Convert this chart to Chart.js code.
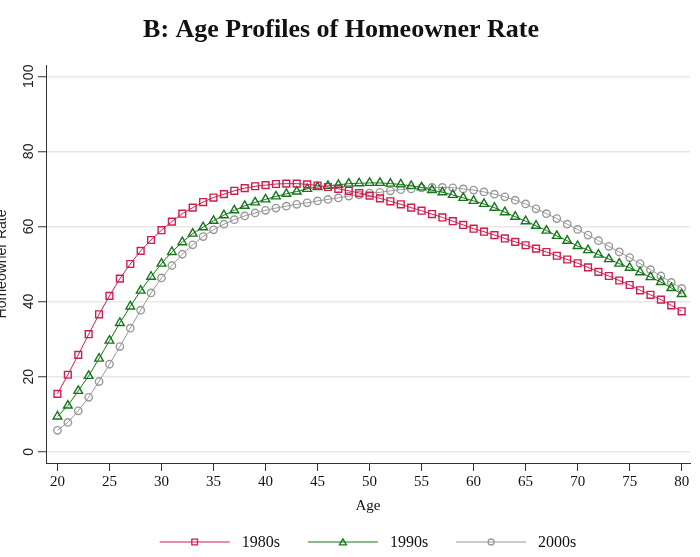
<!DOCTYPE html>
<html>
<head>
<meta charset="utf-8">
<script src="https://cdn.jsdelivr.net/npm/chart.js@4/dist/chart.umd.min.js"></script>
<style>
  html, body { margin: 0; padding: 0; background: #ffffff; }
  #wrap { width: 700px; height: 557px; }
</style>
</head>
<body>
<div id="wrap"><canvas id="c" width="700" height="557"></canvas></div>
<script>
const titleText = 'B: Age Profiles of Homeowner Rate';
const xTitle = 'Age';
const yTitle = 'Homeowner Rate';
const seriesNames = ['1980s', '1990s', '2000s'];

const ages = [20,21,22,23,24,25,26,27,28,29,30,31,32,33,34,35,36,37,38,39,40,41,42,43,44,45,46,47,48,49,50,
  51,52,53,54,55,56,57,58,59,60,61,62,63,64,65,66,67,68,69,70,71,72,73,74,75,76,77,78,79,80];

const rate1980s = [15.4,20.5,25.8,31.3,36.6,41.5,46.1,50.0,53.5,56.4,59.0,61.3,63.4,65.0,66.5,67.7,68.6,69.5,70.2,70.7,
  71.0,71.3,71.4,71.4,71.2,70.9,70.5,70.0,69.5,68.9,68.2,67.5,66.7,65.9,65.0,64.2,63.3,62.4,61.4,60.4,
  59.4,58.6,57.7,56.8,55.9,55.0,54.1,53.2,52.2,51.2,50.2,49.1,47.9,46.8,45.6,44.4,43.0,41.8,40.5,39.0,37.4];

const rate1990s = [9.4,12.3,16.2,20.2,24.8,29.6,34.3,38.7,42.9,46.6,50.1,53.2,55.8,58.1,59.8,61.5,63.0,64.3,65.5,66.4,
  67.2,68.0,68.7,69.3,70.0,70.5,70.8,71.1,71.4,71.5,71.6,71.6,71.4,71.2,70.8,70.4,69.7,69.1,68.4,67.6,
  66.8,66.0,65.0,63.8,62.6,61.4,60.2,58.9,57.5,56.2,54.8,53.7,52.5,51.3,50.1,49.0,47.8,46.5,45.2,43.6,42.0];

const rate2000s = [5.7,7.8,10.9,14.5,18.7,23.3,28.0,32.9,37.7,42.3,46.3,49.6,52.6,55.1,57.3,59.1,60.6,61.8,62.8,63.6,
  64.3,64.9,65.4,65.9,66.3,66.8,67.2,67.6,68.1,68.4,68.9,69.1,69.5,69.8,70.0,70.3,70.4,70.4,70.3,70.0,
  69.7,69.2,68.6,67.9,67.0,66.0,64.7,63.4,62.1,60.6,59.2,57.7,56.2,54.7,53.2,51.7,50.1,48.5,46.8,45.1,43.5];

const xTicks = [20,25,30,35,40,45,50,55,60,65,70,75,80];
const yTicks = [0,20,40,60,80,100];

const colors = ['#cf1d4c', '#17761a', '#999999'];
const styles = ['rect', 'triangle', 'circle'];
const radii = [4.8, 5, 3.7];
const seriesValues = [rate1980s, rate1990s, rate2000s];

const serif = "'Liberation Serif', 'Times New Roman', serif";
const sans = "'Liberation Sans', Arial, sans-serif";

function drawMarker(ctx, style, x, y, r, color) {
  ctx.save();
  ctx.strokeStyle = color;
  ctx.lineWidth = 1.3;
  ctx.beginPath();
  if (style === 'rect') {
    const s = r * Math.SQRT1_2;
    ctx.rect(x - s, y - s, 2 * s, 2 * s);
  } else if (style === 'triangle') {
    for (let k = 0; k < 3; k++) {
      const a = -Math.PI / 2 + k * 2 * Math.PI / 3;
      const px = x + r * Math.cos(a), py = y + r * Math.sin(a) + r * 0.2;
      if (k === 0) ctx.moveTo(px, py); else ctx.lineTo(px, py);
    }
    ctx.closePath();
  } else {
    ctx.arc(x, y, r, 0, Math.PI * 2);
  }
  ctx.stroke();
  ctx.restore();
}

const extras = {
  id: 'extras',
  afterDraw(chart) {
    const ctx = chart.ctx;
    const area = chart.chartArea;
    // title
    ctx.save();
    ctx.fillStyle = '#111111';
    ctx.font = 'bold 26px ' + serif;
    ctx.textAlign = 'center';
    ctx.textBaseline = 'alphabetic';
    ctx.fillText(titleText, 341, 37);
    ctx.restore();
    // rotated y tick labels
    const ys = chart.scales.y;
    ctx.save();
    ctx.fillStyle = '#222222';
    ctx.font = '14px ' + sans;
    ctx.textAlign = 'center';
    ctx.textBaseline = 'alphabetic';
    yTicks.forEach(v => {
      const py = ys.getPixelForValue(v);
      ctx.save();
      ctx.translate(33, py);
      ctx.rotate(-Math.PI / 2);
      ctx.fillText(String(v), 0, 0);
      ctx.restore();
    });
    ctx.restore();
    // legend
    ctx.save();
    ctx.font = '16px ' + serif;
    const lineW = 70, gapText = 12, gapItem = 28;
    const widths = seriesNames.map(n => lineW + gapText + ctx.measureText(n).width);
    const total = widths.reduce((a, b) => a + b, 0) + gapItem * (seriesNames.length - 1);
    let x = (area.left + area.right) / 2 - total / 2;
    const ly = 542;
    seriesNames.forEach((n, i) => {
      ctx.strokeStyle = colors[i];
      ctx.lineWidth = 1;
      ctx.beginPath();
      ctx.moveTo(x, ly);
      ctx.lineTo(x + lineW, ly);
      ctx.stroke();
      drawMarker(ctx, styles[i], x + lineW / 2, ly, i === 2 ? 3 : 4, colors[i]);
      ctx.fillStyle = '#111111';
      ctx.textAlign = 'left';
      ctx.textBaseline = 'middle';
      ctx.fillText(n, x + lineW + gapText, ly + 1);
      x += widths[i] + gapItem;
    });
    ctx.restore();
  }
};

const datasets = seriesNames.map((name, i) => ({
  label: name,
  data: ages.map((a, j) => ({ x: a, y: seriesValues[i][j] })),
  borderColor: colors[i],
  borderWidth: 1,
  pointStyle: styles[i],
  pointRadius: radii[i],
  pointBorderWidth: 1.4,
  pointBorderColor: colors[i],
  pointBackgroundColor: 'rgba(0,0,0,0)',
  tension: 0,
  fill: false
}));

new Chart(document.getElementById('c'), {
  type: 'line',
  data: { datasets },
  options: {
    responsive: false,
    animation: false,
    devicePixelRatio: 1,
    layout: { padding: { top: 65, right: 10, bottom: 30, left: 0 } },
    plugins: {
      legend: { display: false },
      title: { display: false },
      tooltip: { enabled: false }
    },
    scales: {
      x: {
        type: 'linear',
        min: 18.9,
        max: 80.8,
        afterBuildTicks: s => { s.ticks = xTicks.map(v => ({ value: v })); },
        afterFit: s => { s.height = 64; },
        grid: { drawOnChartArea: false, drawTicks: true, tickLength: 8, tickColor: '#333333', tickWidth: 1 },
        border: { display: true, color: '#333333', width: 1 },
        ticks: { color: '#111111', font: { family: serif, size: 15 }, padding: 2, maxRotation: 0, autoSkip: false },
        title: { display: true, text: xTitle, color: '#111111', font: { family: serif, size: 15 }, padding: { top: 0, bottom: 12 } }
      },
      y: {
        type: 'linear',
        min: -3,
        max: 103,
        afterBuildTicks: s => { s.ticks = yTicks.map(v => ({ value: v })); },
        afterFit: s => { s.width = 46; },
        grid: { color: '#e8e8e8', lineWidth: 1.5, drawTicks: true, tickLength: 8, tickColor: '#333333', tickWidth: 1 },
        border: { display: true, color: '#333333', width: 1 },
        ticks: { callback: () => '', font: { family: sans, size: 14 } },
        title: { display: true, text: yTitle, color: '#222222', font: { family: sans, size: 14 }, padding: { top: -6, bottom: 0 } }
      }
    }
  },
  plugins: [extras]
});
</script>
</body>
</html>
